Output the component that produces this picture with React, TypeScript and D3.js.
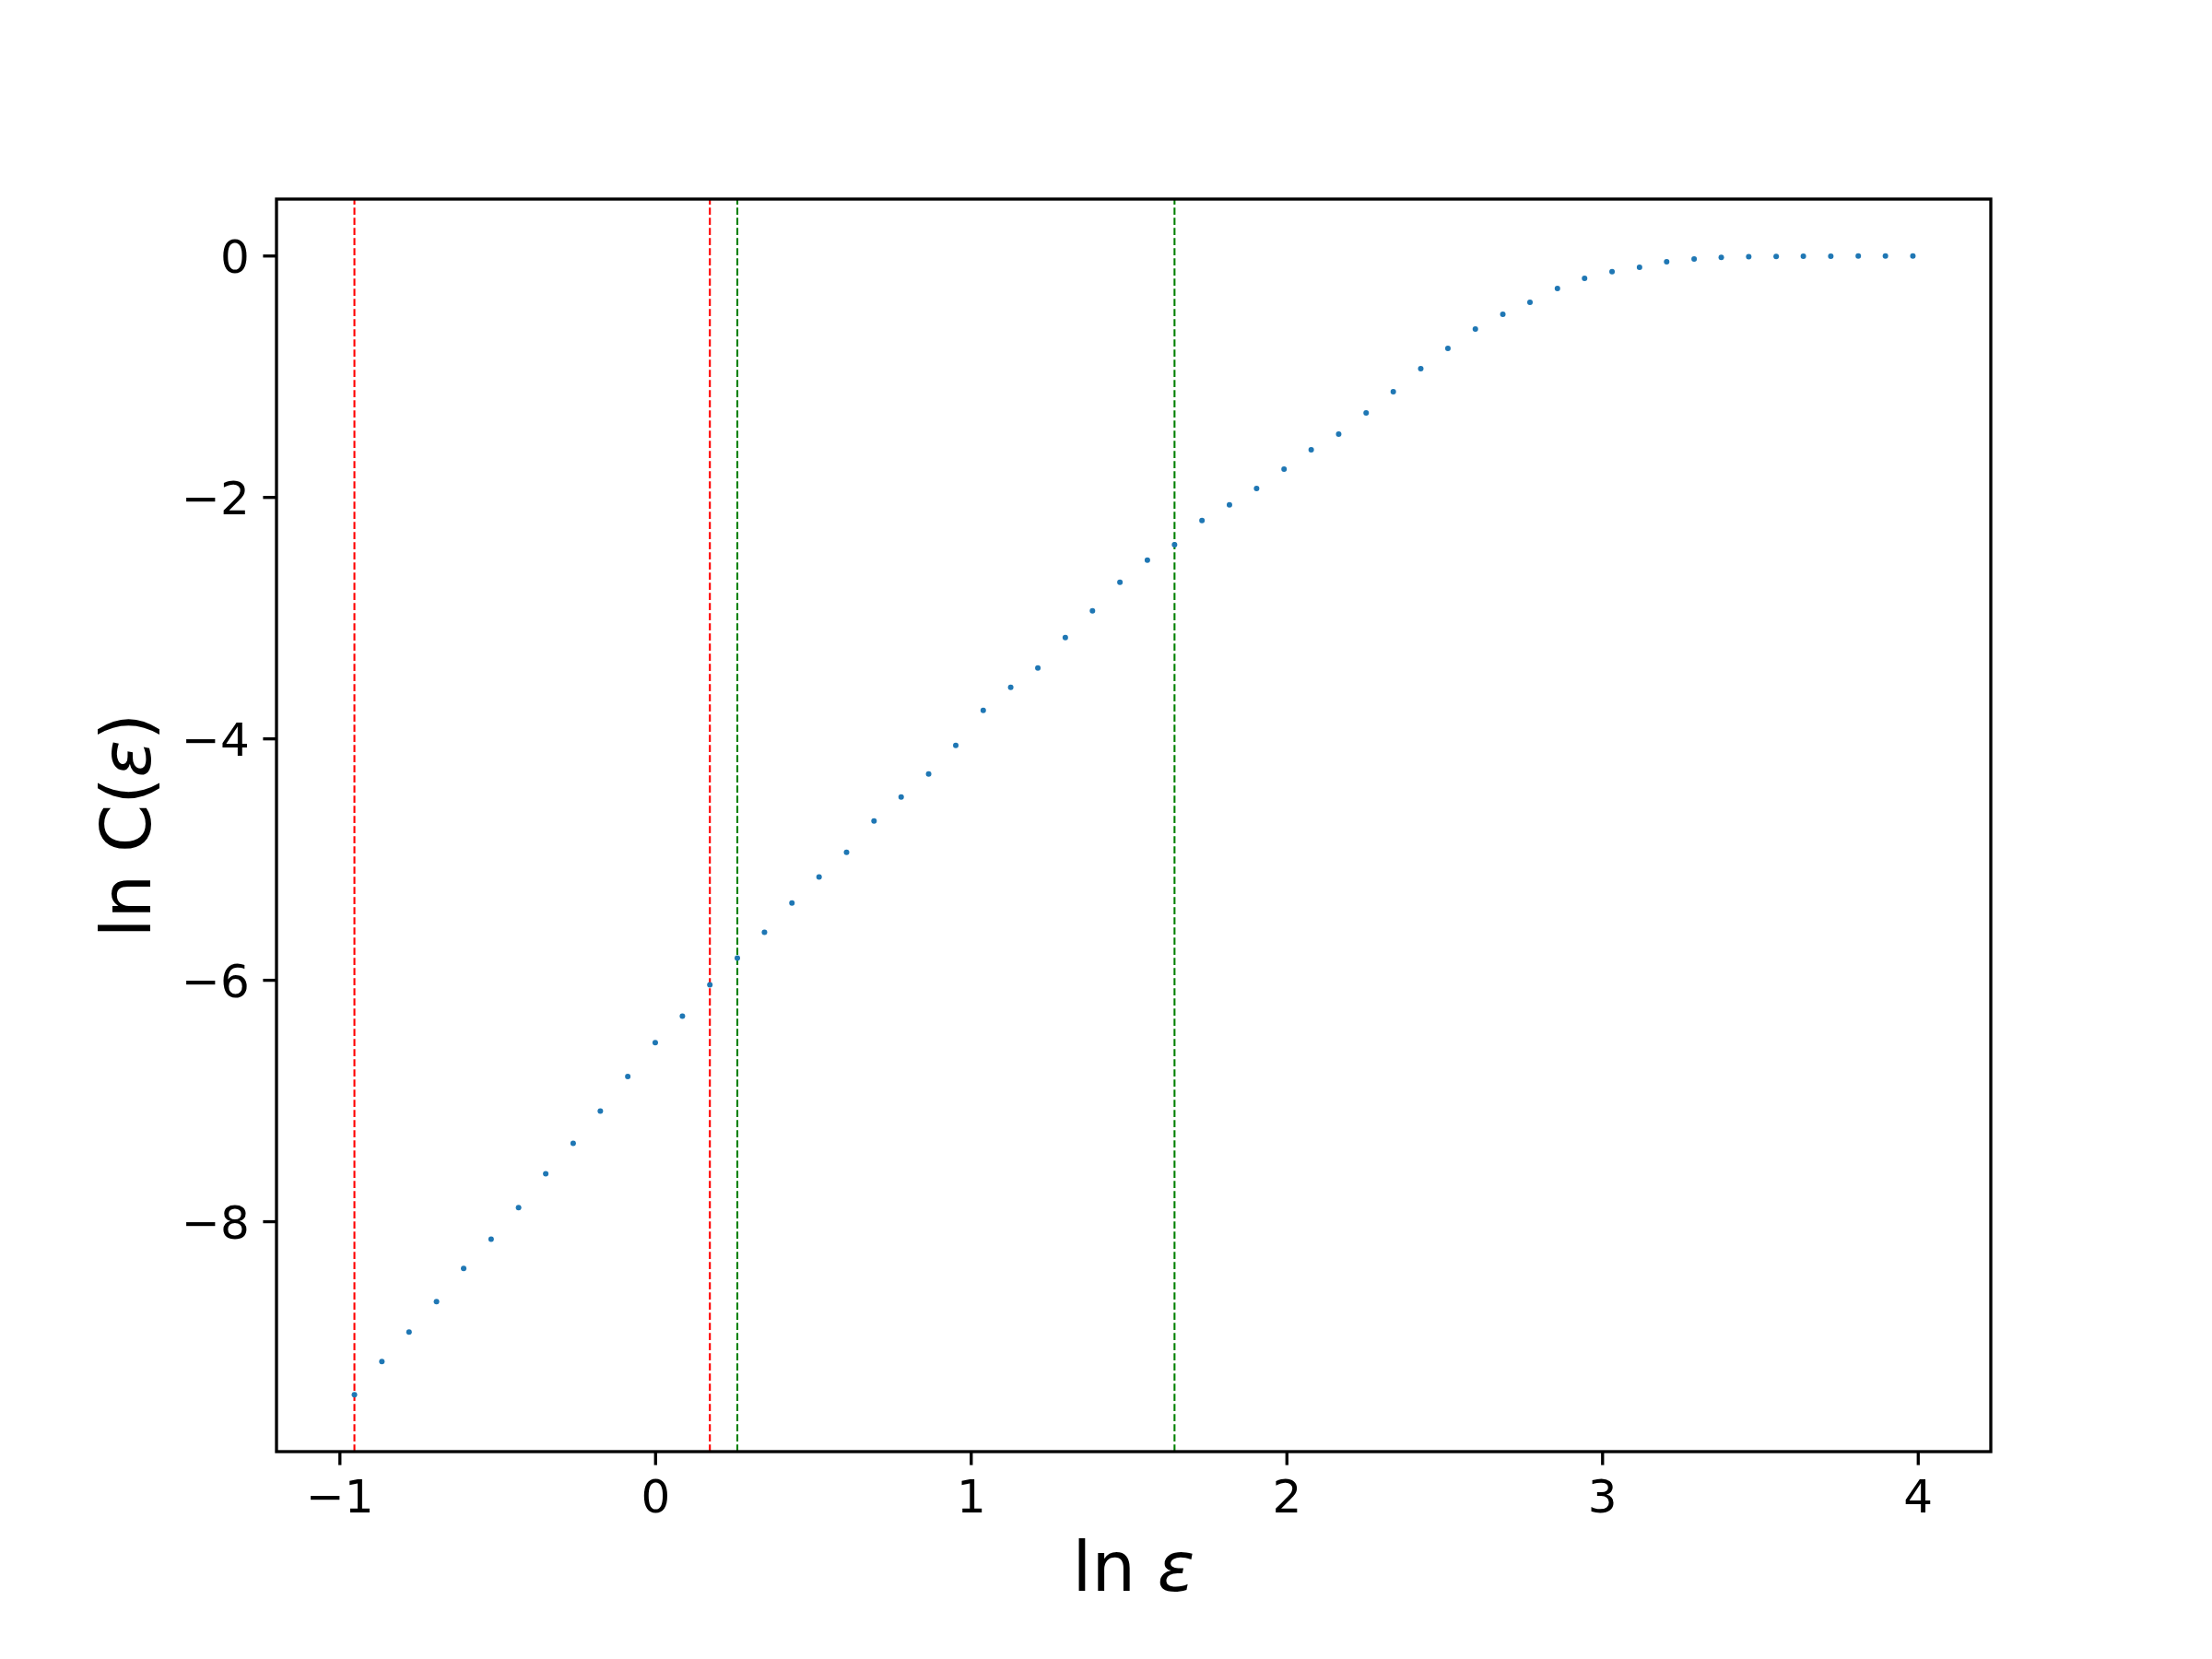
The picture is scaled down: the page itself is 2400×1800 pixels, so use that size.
import React from "react";
import * as d3 from "d3";

const lnEps = [
  -0.954, -0.867, -0.781, -0.694, -0.608, -0.521, -0.434, -0.348, -0.261, -0.175,
  -0.088, -0.001, 0.085, 0.172, 0.259, 0.345, 0.432, 0.518, 0.605, 0.692,
  0.778, 0.865, 0.951, 1.038, 1.125, 1.211, 1.298, 1.384, 1.471, 1.558,
  1.644, 1.731, 1.818, 1.904, 1.991, 2.077, 2.164, 2.251, 2.337, 2.424,
  2.51, 2.597, 2.684, 2.77, 2.857, 2.943, 3.03, 3.117, 3.203, 3.29,
  3.376, 3.463, 3.55, 3.636, 3.723, 3.81, 3.896, 3.983,
];
const lnC = [
  -9.433, -9.158, -8.914, -8.662, -8.388, -8.144, -7.884, -7.602, -7.35, -7.083,
  -6.797, -6.517, -6.297, -6.038, -5.816, -5.603, -5.359, -5.145, -4.939, -4.68,
  -4.481, -4.29, -4.054, -3.764, -3.573, -3.413, -3.161, -2.94, -2.703, -2.52,
  -2.391, -2.192, -2.062, -1.925, -1.765, -1.605, -1.475, -1.299, -1.124, -0.933,
  -0.765, -0.605, -0.483, -0.384, -0.269, -0.185, -0.129, -0.094, -0.047, -0.024,
  -0.012, -0.006, -0.003, -0.002, -0.001, 0, 0, 0,
];
const redLines = [-0.954, 0.172];
const greenLines = [0.259, 1.644];
const xTicks = [-1, 0, 1, 2, 3, 4];
const yTicks = [0, -2, -4, -6, -8];

const W = 2400;
const H = 1800;
const L = 300, R = 2160, T = 216, B = 1575;
const FONT = "'DejaVu Sans', sans-serif";

function fmt(v: number) {
  return v < 0 ? "\u2212" + Math.abs(v) : String(v);
}

export default function App() {
  const [x0, x1] = d3.extent(lnEps) as [number, number];
  const [y0, y1] = d3.extent(lnC) as [number, number];
  const mx = (x1 - x0) * 0.05;
  const my = (y1 - y0) * 0.05;
  const x = d3.scaleLinear().domain([x0 - mx, x1 + mx]).range([L, R]);
  const y = d3.scaleLinear().domain([y0 - my, y1 + my]).range([B, T]);
  const lw = 3.33;
  const tickLen = 14.6;
  const vline = (v: number, color: string, key: string) => (
    <line
      key={key}
      x1={x(v)}
      x2={x(v)}
      y1={B}
      y2={T}
      stroke={color}
      strokeWidth={2.08}
      strokeDasharray="7.7 3.3"
    />
  );
  return (
    <svg
      width={W}
      height={H}
      viewBox={`0 0 ${W} ${H}`}
      style={{ position: "absolute", left: 0, top: 0, background: "#fff" }}
      fontFamily={FONT}
    >
      <rect x={0} y={0} width={W} height={H} fill="#fff" />
      {redLines.map((v, i) => vline(v, "#ff0000", "r" + i))}
      {greenLines.map((v, i) => vline(v, "#008000", "g" + i))}
      {lnEps.map((v, i) => (
        <circle key={i} cx={x(v)} cy={y(lnC[i])} r={3} fill="#1f77b4" />
      ))}
      <rect x={L} y={T} width={R - L} height={B - T} fill="none" stroke="#000" strokeWidth={lw} />
      {xTicks.map((t) => (
        <g key={"xt" + t}>
          <line x1={x(t)} x2={x(t)} y1={B} y2={B + tickLen} stroke="#000" strokeWidth={lw} />
          <text x={x(t)} y={B + tickLen + 14.6 + 37} textAnchor="middle" fontSize={50} fill="#000">
            {fmt(t)}
          </text>
        </g>
      ))}
      {yTicks.map((t) => (
        <g key={"yt" + t}>
          <line x1={L - tickLen} x2={L} y1={y(t)} y2={y(t)} stroke="#000" strokeWidth={lw} />
          <text x={L - tickLen - 14.6} y={y(t) + 18} textAnchor="end" fontSize={50} fill="#000">
            {fmt(t)}
          </text>
        </g>
      ))}
      <text x={(L + R) / 2} y={1726} textAnchor="middle" fontSize={75} fill="#000">
        ln <tspan fontStyle="italic">ε</tspan>
      </text>
      <text
        transform={`translate(163, ${(T + B) / 2}) rotate(-90)`}
        textAnchor="middle"
        fontSize={75}
        fill="#000"
      >
        ln C(<tspan fontStyle="italic">ε</tspan>)
      </text>
    </svg>
  );
}
